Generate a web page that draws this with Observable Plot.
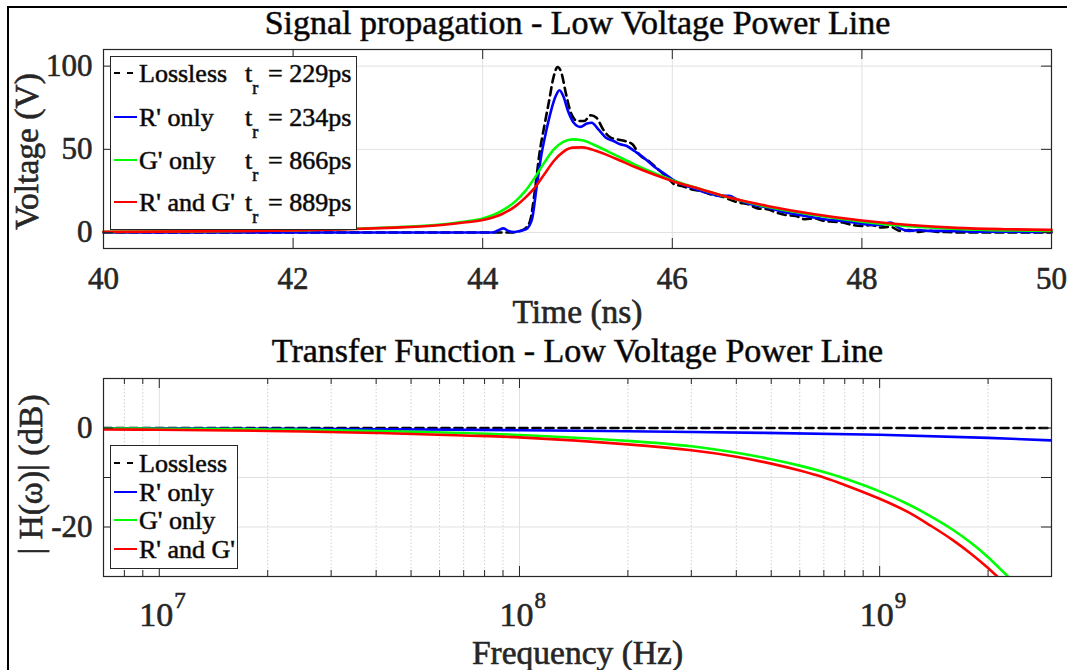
<!DOCTYPE html>
<html>
<head>
<meta charset="utf-8">
<script src="https://cdn.jsdelivr.net/npm/d3@7"></script>
<script src="https://cdn.jsdelivr.net/npm/@observablehq/plot@0.6"></script>
<style>
html,body{margin:0;padding:0;background:#fff;}
#wrap{position:relative;width:1067px;height:670px;overflow:hidden;background:#fff;font-family:"Liberation Serif","Times New Roman",serif;color:#262626;}
.panel{position:absolute;left:0;}
#overlay{position:absolute;left:0;top:0;pointer-events:none;}
#wrap svg text{stroke:currentColor;stroke-width:0.6px;}
#overlay text{stroke:#000;}
</style>
</head>
<body>
<div id="wrap">
  <div class="panel" id="p1" style="top:0px"></div>
  <div class="panel" id="p2" style="top:335px"></div>
</div>
<script>
// ---------- series meta ----------
const seriesNames = ["Lossless", "R' only", "G' only", "R' and G'"];
const seriesColors = ["#000000", "#0000ff", "#00ff00", "#ff0000"];
const riseTimes = ["229ps", "234ps", "866ps", "889ps"];

// ---------- Signal propagation (time in ns, voltage in V) ----------
const tLossless = [40, 44.3, 44.4, 44.45, 44.5, 44.55, 44.6, 44.65, 44.7, 44.75, 44.79, 44.83, 44.88, 44.93, 45.0, 45.07, 45.14, 45.2, 45.27, 45.35, 45.42, 45.5, 45.58, 45.65, 45.75, 45.85, 45.95, 46.02, 46.1, 46.2, 46.3, 46.4, 46.5, 46.6, 46.7, 46.8, 46.9, 47.0, 47.1, 47.2, 47.3, 47.4, 47.5, 47.6, 47.7, 47.8, 47.9, 48.0, 48.1, 48.2, 48.3, 48.4, 48.5, 48.6, 48.7, 48.8, 48.9, 49.0, 50];
const vLossless = [0, 0, 1, 2.5, 7, 25, 48, 64, 79, 94, 99.5, 96, 83, 72, 67, 67, 70.5, 69, 62, 57, 56, 55, 53, 47, 43, 38, 33, 29, 28, 26, 25, 23, 22, 20, 18, 17, 14.5, 14, 12, 10.5, 10, 8, 8.5, 7, 6.5, 6, 4.5, 4, 4.5, 3, 3.5, 1, 1.5, 0.3, 1.2, 0.3, 0.3, 0, 0];

const tROnly = [40, 44.1, 44.16, 44.22, 44.27, 44.33, 44.4, 44.46, 44.52, 44.57, 44.62, 44.67, 44.72, 44.77, 44.81, 44.85, 44.9, 44.96, 45.03, 45.1, 45.15, 45.22, 45.3, 45.38, 45.45, 45.52, 45.6, 45.7, 45.8, 45.9, 46.0, 46.1, 46.2, 46.3, 46.4, 46.5, 46.6, 46.68, 46.8, 47.0, 47.2, 47.4, 47.6, 47.8, 48.0, 48.2, 48.3, 48.4, 48.5, 48.6, 48.7, 48.9, 49.2, 50];
const vROnly = [0, 0, 1.2, 2.5, 1, 0.3, 1, 2, 8, 28, 47, 61, 73, 82, 85.5, 82, 73, 66, 63.5, 65.5, 66, 62, 57, 55, 53, 52, 49, 45, 40, 36, 32, 29, 27, 25, 23.5, 22, 22, 20, 17.5, 15, 12, 10, 8, 7, 5.2, 4.5, 6, 2.5, 1, 1.5, 1, 1, 0.5, 0.4];

const tGOnly = [40, 41, 42, 42.5, 43, 43.5, 43.8, 44.0, 44.2, 44.35, 44.45, 44.55, 44.65, 44.75, 44.85, 44.95, 45.05, 45.2, 45.4, 45.6, 45.8, 46.0, 46.3, 46.6, 47.0, 47.5, 48.0, 48.5, 49.0, 49.5, 50];
const vGOnly = [0.4, 0.7, 1.3, 2, 3, 4.5, 6.5, 8.5, 13, 19, 25, 33, 42, 50, 54.5, 56, 55.5, 52, 46.5, 41, 36, 31.5, 26, 21, 15.5, 10.5, 6.5, 3.8, 2.2, 1.3, 0.9];

const tRG = [40, 41, 42, 42.5, 43, 43.5, 43.8, 44.0, 44.2, 44.35, 44.45, 44.55, 44.65, 44.75, 44.85, 44.95, 45.05, 45.2, 45.4, 45.6, 45.8, 46.0, 46.3, 46.6, 47.0, 47.5, 48.0, 48.5, 49.0, 49.5, 50];
const vRG = [0.4, 0.7, 1.2, 1.8, 2.8, 4.2, 6, 7.5, 11, 16, 21, 27, 35, 43, 48.5, 51, 51.2, 49, 44.5, 39.5, 35, 31, 26, 21, 16, 11, 7.2, 4.5, 2.8, 2, 1.6];

const timeTicks = [40, 42, 44, 46, 48, 50];
const voltTicks = [0, 50, 100];

// ---------- Transfer function (frequency in Hz, |H| in dB) ----------
const fLossless = [7e6, 3e9];
const hLossless = [0, 0];
const fROnly = [7e6, 1e7, 3e7, 1e8, 3e8, 1e9, 2e9, 3e9];
const hROnly = [-0.05, -0.08, -0.2, -0.45, -0.8, -1.35, -2.0, -2.5];
const fGOnly = [7e6, 1e7, 2e7, 4e7, 7e7, 1e8, 2e8, 3e8, 4e8, 5e8, 6e8, 7e8, 8e8, 1e9, 1.2e9, 1.39e9, 1.6e9, 1.8e9, 2e9, 2.15e9, 2.27e9, 2.4e9];
const hGOnly = [-0.1, -0.15, -0.3, -0.6, -1.0, -1.4, -2.6, -3.7, -5.0, -6.3, -7.6, -8.9, -10.2, -12.8, -15.4, -17.9, -20.6, -23.3, -26.1, -28.3, -30, -32];
const fRG = [7e6, 1e7, 2e7, 4e7, 7e7, 1e8, 2e8, 3e8, 4e8, 5e8, 6e8, 7e8, 8e8, 1e9, 1.2e9, 1.39e9, 1.6e9, 1.8e9, 2e9, 2.12e9, 2.3e9];
const hRG = [-0.3, -0.35, -0.6, -1.0, -1.5, -1.9, -3.3, -4.5, -5.8, -7.2, -8.6, -10.0, -11.5, -14.3, -17.0, -19.8, -22.7, -25.5, -28.3, -30, -32.8];

const freqMajorTicks = [1e7, 1e8, 1e9];
const freqTickExponents = ["7", "8", "9"];
const freqMinorTicks = [8e6, 9e6, 2e7, 3e7, 4e7, 5e7, 6e7, 7e7, 8e7, 9e7, 2e8, 3e8, 4e8, 5e8, 6e8, 7e8, 8e8, 9e8, 2e9];
const dbGridTicks = [-20, -10, 0];
const dbLabelTicks = [-20, 0];

const title1 = "Signal propagation - Low Voltage Power Line";
const title2 = "Transfer Function - Low Voltage Power Line";

// ---------- build tidy tables ----------
const timeSeries = [[tLossless, vLossless], [tROnly, vROnly], [tGOnly, vGOnly], [tRG, vRG]]
  .map(([T, V], s) => T.map((t, i) => ({s, t, v: V[i]})));
const freqSeries = [[fLossless, hLossless], [fROnly, hROnly], [fGOnly, hGOnly], [fRG, hRG]]
  .map(([F, H], s) => F.map((f, i) => ({s, f, h: H[i]})));

const W = 1067, H = 335;
const FONT = "'Liberation Serif', 'Times New Roman', serif";
const AX = "#262626", GRID = "#e1e1e1";

// ---------- panel 1 ----------
const m1 = {top: 49, bottom: 87, left: 103, right: 16};
const fh1 = H - m1.top - m1.bottom, fw = W - m1.left - m1.right;
const p1 = Plot.plot({
  width: W, height: H,
  marginTop: m1.top, marginBottom: m1.bottom, marginLeft: m1.left, marginRight: m1.right,
  style: {fontFamily: FONT, color: AX, background: "transparent", overflow: "visible"},
  x: {type: "linear", domain: [40, 50]},
  y: {type: "linear", domain: [-9.6, 110]},
  marks: [
    Plot.ruleX(timeTicks.slice(1, -1), {stroke: GRID, strokeWidth: 1}),
    Plot.ruleY(voltTicks, {stroke: GRID, strokeWidth: 1}),
    ...timeSeries.map((d, s) => Plot.line(d, {
      x: "t", y: "v", stroke: seriesColors[s], strokeWidth: 2.6, curve: "monotone-x",
      strokeDasharray: s === 0 ? "8,5" : null
    })),
    Plot.ruleX(timeTicks, {stroke: AX, insetTop: fh1 - 10}),
    Plot.ruleX(timeTicks, {stroke: AX, insetBottom: fh1 - 10}),
    Plot.ruleY(voltTicks, {stroke: AX, insetRight: fw - 10}),
    Plot.ruleY(voltTicks, {stroke: AX, insetLeft: fw - 10}),
    Plot.frame({stroke: AX, strokeWidth: 1.2}),
    Plot.axisX(timeTicks, {tickSize: 0, tickPadding: 18, fontSize: 31, label: null, tickFormat: d => String(d)}),
    Plot.axisY(voltTicks, {tickSize: 0, tickPadding: 11, fontSize: 31, label: null, tickFormat: d => String(d)}),
    Plot.text([title1], {frameAnchor: "top", textAnchor: "middle", lineAnchor: "bottom", dy: -16, fontSize: 34, fill: "#000"}),
    Plot.text(["Time (ns)"], {frameAnchor: "bottom", textAnchor: "middle", lineAnchor: "bottom", dy: 74, fontSize: 33.5, fill: AX}),
    Plot.text(["Voltage (V)"], {frameAnchor: "left", textAnchor: "middle", lineAnchor: "middle", rotate: -90, dx: -76, dy: 2.5, fontSize: 33.5, fill: AX})
  ]
});
document.getElementById("p1").appendChild(p1);

// ---------- panel 2 ----------
const m2 = {top: 43, bottom: 94, left: 103, right: 16};
const fh2 = H - m2.top - m2.bottom;
const p2 = Plot.plot({
  width: W, height: H,
  marginTop: m2.top, marginBottom: m2.bottom, marginLeft: m2.left, marginRight: m2.right,
  style: {fontFamily: FONT, color: AX, background: "transparent", overflow: "visible"},
  x: {type: "log", domain: [7e6, 3e9]},
  y: {type: "linear", domain: [-30, 10]},
  marks: [
    Plot.ruleX(freqMinorTicks, {stroke: "#cfcfcf", strokeWidth: 1, strokeDasharray: "1.5,2"}),
    Plot.ruleX(freqMajorTicks, {stroke: GRID, strokeWidth: 1}),
    Plot.ruleY(dbGridTicks, {stroke: GRID, strokeWidth: 1}),
    ...freqSeries.map((d, s) => Plot.line(d, {
      x: "f", y: "h", stroke: seriesColors[s], strokeWidth: 2.6, curve: "catmull-rom", clip: true,
      strokeDasharray: s === 0 ? "8,5" : null
    })),
    Plot.ruleX(freqMajorTicks, {stroke: AX, insetTop: fh2 - 10}),
    Plot.ruleX(freqMajorTicks, {stroke: AX, insetBottom: fh2 - 10}),
    Plot.ruleX(freqMinorTicks, {stroke: AX, insetTop: fh2 - 6}),
    Plot.ruleX(freqMinorTicks, {stroke: AX, insetBottom: fh2 - 6}),
    Plot.ruleY(dbGridTicks, {stroke: AX, insetRight: fw - 10}),
    Plot.ruleY(dbGridTicks, {stroke: AX, insetLeft: fw - 10}),
    Plot.frame({stroke: AX, strokeWidth: 1.2}),
    Plot.axisX(freqMajorTicks, {tickSize: 0, tickPadding: 25, fontSize: 34, dx: -3, label: null, tickFormat: () => "10"}),
    Plot.text(freqMajorTicks, {x: d => d, text: (d, i) => freqTickExponents[i], frameAnchor: "bottom",
      lineAnchor: "bottom", textAnchor: "start", dx: 15, dy: 31, fontSize: 23, fill: AX}),
    Plot.axisY(dbLabelTicks, {tickSize: 0, tickPadding: 11, fontSize: 31, label: null, tickFormat: d => String(d)}),
    Plot.text([title2], {frameAnchor: "top", textAnchor: "middle", lineAnchor: "bottom", dy: -16.3, fontSize: 34, fill: "#000"}),
    Plot.text(["Frequency (Hz)"], {frameAnchor: "bottom", textAnchor: "middle", lineAnchor: "bottom", dy: 87, fontSize: 33.5, fill: AX}),
    Plot.text(["| H(ω)| (dB)"], {frameAnchor: "left", textAnchor: "middle", lineAnchor: "middle", rotate: -90, dx: -72, dy: -3, fontSize: 33.5, fill: AX})
  ]
});
document.getElementById("p2").appendChild(p2);

// ---------- overlay: figure border + legends ----------
const ov = d3.select("#wrap").append("svg").attr("id", "overlay")
  .attr("width", W).attr("height", 670)
  .style("font-family", FONT);
ov.append("line").attr("x1", 8).attr("x2", W).attr("y1", 7).attr("y2", 7).attr("stroke", "#000").attr("stroke-width", 2);
ov.append("line").attr("x1", 8).attr("x2", 8).attr("y1", 6).attr("y2", 670).attr("stroke", "#000").attr("stroke-width", 2);

function drawLegend(box, rowsY, withRise) {
  const g = ov.append("g");
  g.append("rect").attr("x", box.x + 0.5).attr("y", box.y + 0.5).attr("width", box.w).attr("height", box.h)
    .attr("fill", "#fff").attr("stroke", AX).attr("stroke-width", 1);
  seriesNames.forEach((name, i) => {
    const cy = rowsY[i];
    g.append("line").attr("x1", 114).attr("x2", 137).attr("y1", cy).attr("y2", cy)
      .attr("stroke", seriesColors[i]).attr("stroke-width", 2)
      .attr("stroke-dasharray", i === 0 ? "6,7" : null);
    const t = g.append("text").attr("x", 139).attr("y", cy + 8.5).attr("font-size", 26).attr("fill", "#000");
    t.append("tspan").text(name);
    if (withRise) {
      t.append("tspan").attr("x", 245).text("t");
      t.append("tspan").attr("font-size", 18).attr("dy", 12).text("r");
      t.append("tspan").attr("x", 268).attr("dy", -12).text("= " + riseTimes[i]);
    }
  });
}
drawLegend({x: 110, y: 56, w: 246, h: 173}, [73, 117, 160, 202], true);
drawLegend({x: 110, y: 445, w: 127, h: 123}, [463, 492, 520, 549], false);
</script>
</body>
</html>
